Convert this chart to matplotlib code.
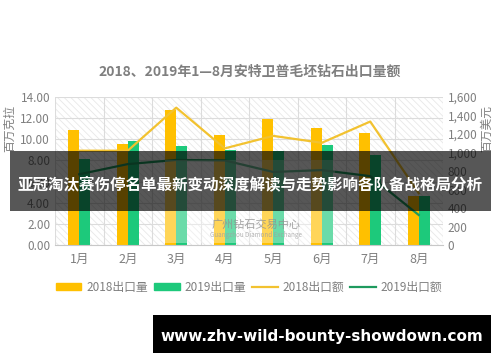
import numpy as np
import matplotlib
matplotlib.use("Agg")
import matplotlib.pyplot as plt
from matplotlib.patches import Rectangle
from matplotlib.lines import Line2D
from matplotlib.ticker import FuncFormatter

plt.rcParams['font.family'] = ['Noto Sans CJK SC', 'DejaVu Sans']
plt.rcParams['hatch.linewidth'] = 0.6

# data
months = ["1月", "2月", "3月", "4月", "5月", "6月", "7月", "8月"]
vol_2018 = [10.9, 9.6, 12.8, 10.4, 11.9, 11.1, 10.6, 4.6]   # 百万克拉
vol_2019 = [8.1, 9.8, 9.4, 9.0, 8.9, 9.5, 8.5, 4.6]
val_2018 = [1020, 1020, 1485, 1045, 1180, 1105, 1335, 560]  # 百万美元
val_2019 = [765, 875, 920, 915, 790, 810, 745, 325]

title = "2018、2019年1—8月安特卫普毛坯钻石出口量额"
banner = "亚冠淘汰赛伤停名单最新变动深度解读与走势影响各队备战格局分析"
url = "www.zhv-wild-bounty-showdown.com"

C18 = "#FFC000"
C19 = "#1DC97B"
L18 = "#F2C230"
L19 = "#1E9A5E"
GRAY = "#7f7f7f"

fig = plt.figure(figsize=(5, 3.62), dpi=100)
ax = fig.add_axes([0.11, 0.323, 0.776, 0.409])
ax2 = ax.twinx()

# hatched plot background
ax.add_patch(Rectangle((0, 0), 1, 1, transform=ax.transAxes, facecolor="white",
                       edgecolor="#e8e8e8", hatch="\\\\\\\\\\", linewidth=0, zorder=0))

x = np.arange(len(months))
w = 0.22
ax.bar(x - 0.115, vol_2018, w, color=C18, zorder=2)
ax.bar(x + 0.115, vol_2019, w, color=C19, zorder=2)
ax.set_ylim(0, 14)
ax.set_yticks(np.arange(0, 15, 2))
ax.yaxis.set_major_formatter(FuncFormatter(lambda v, p: f"{v:.2f}"))
ax.set_xlim(-0.5, 7.5)
ax.set_xticks(x)
ax.set_xticklabels(months)
ax.set_xticks(np.arange(-0.5, 8, 1), minor=True)
ax.set_axisbelow(True)
ax.grid(axis="y", color="#dcdcdc", linewidth=0.8)
ax.grid(axis="x", which="minor", color="#dcdcdc", linewidth=0.8)
ax.tick_params(axis="both", which="both", length=0, colors=GRAY, labelsize=8.5)
ax.tick_params(axis="x", pad=6, labelsize=9)

ax2.plot(x, val_2018, color=L18, linewidth=1.6, zorder=3)
ax2.plot(x, val_2019, color=L19, linewidth=1.6, zorder=3)
ax2.set_ylim(0, 1600)
ax2.set_yticks(np.arange(0, 1601, 200))
ax2.yaxis.set_major_formatter(FuncFormatter(lambda v, p: f"{int(v):,}"))
ax2.tick_params(axis="y", length=0, colors=GRAY, labelsize=8.5)

for a in (ax, ax2):
    for s in a.spines.values():
        s.set_visible(False)
ax.spines["bottom"].set_visible(True)
ax.spines["bottom"].set_color("#c8c8c8")

fig.text(0.5, 1 - 72 / 362, title, ha="center", va="center", fontsize=10,
         fontweight="bold", color=GRAY)
fig.text(10 / 500, 1 - 128 / 362, "百万克拉", rotation=90, ha="center", va="center",
         fontsize=8.5, color=GRAY)
fig.text(487 / 500, 1 - 129 / 362, "百万美元", rotation=90, ha="center", va="center",
         fontsize=8.5, color=GRAY)

handles = [Rectangle((0, 0), 1, 1, color=C18), Rectangle((0, 0), 1, 1, color=C19),
           Line2D([], [], color=L18, linewidth=1.6), Line2D([], [], color=L19, linewidth=1.6)]
labels = ["2018出口量", "2019出口量", "2018出口额", "2019出口额"]
leg = fig.legend(handles, labels, loc="center", bbox_to_anchor=(0.498, 1 - 287 / 362),
                 ncol=4, frameon=False, fontsize=8.5, handlelength=2.2, handleheight=0.6,
                 handletextpad=0.4, columnspacing=0.5)
for t in leg.get_texts():
    t.set_color(GRAY)

# watermark
fig.patches.append(Rectangle((0.33, 0.329), 0.34, 0.229, transform=fig.transFigure,
                             facecolor="white", alpha=0.35, edgecolor="none", zorder=4))
fig.text(256 / 500, 1 - 225 / 362, "广州钻石交易中心", ha="center", va="center",
         fontsize=8, color="#909090", alpha=0.8, zorder=5)
fig.text(256 / 500, 1 - 235 / 362, "Guangzhou Diamond Exchange", ha="center", va="center",
         fontsize=4.5, color="#a0a0a0", alpha=0.8, zorder=5)

# overlay banner
fig.patches.append(Rectangle((0.02, 0.417), 0.962, 0.166, transform=fig.transFigure,
                             facecolor="black", alpha=0.66, edgecolor="none", zorder=6))
fig.text(0.5, 1 - 184.5 / 362, banner, ha="center", va="center", fontsize=11.2,
         fontweight="bold", color="white", zorder=7)

# url box
fig.patches.append(Rectangle((0.306, 0.025), 0.676, 0.105, transform=fig.transFigure,
                             facecolor="black", edgecolor="none", zorder=6))
fig.text(0.644, 1 - 336 / 362, url, ha="center", va="center", fontsize=11,
         fontweight="bold", color="white", family="DejaVu Sans", zorder=7)

fig.savefig("out.png", dpi=100)
